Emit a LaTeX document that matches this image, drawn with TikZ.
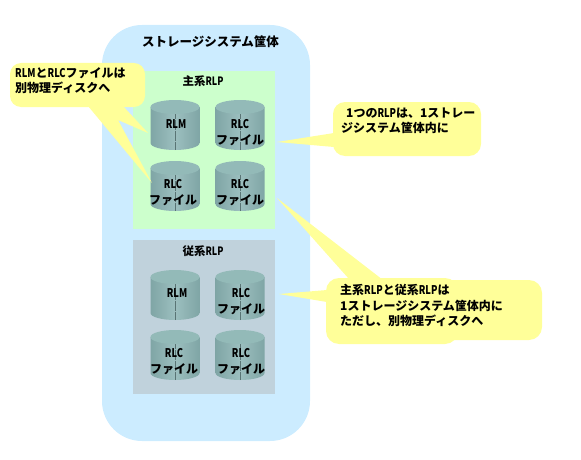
\documentclass[tikz,border=0pt]{standalone}
\usepackage{fontspec}
\setmainfont{Noto Sans CJK JP}
\newcommand{\lat}[1]{\scalebox{0.78}[1]{#1}}
\definecolor{casing}{HTML}{CCECFF}
\definecolor{primary}{HTML}{CCFFCC}
\definecolor{secondary}{HTML}{C0D2DC}
\definecolor{balloon}{HTML}{FFFF99}
\definecolor{diskside}{HTML}{7FA5A5}
\definecolor{diskmid}{HTML}{9CBFBF}
\definecolor{disktop}{HTML}{93BAB8}
\tikzset{
	zonetext/.style={font=\fontsize{11.5}{14}\selectfont\bfseries,inner sep=0pt},
	disktext/.style={font=\fontsize{12}{14}\selectfont\bfseries,inner sep=0pt},
	balloontext/.style={font=\fontsize{12}{14}\selectfont\bfseries,inner sep=0pt,anchor=west},
}
% one disk: centre x, top y
\newcommand{\disk}[2]{
	\shade[left color=diskside,right color=diskside,middle color=diskmid] (#1-24.5,#2+7) -- (#1-24.5,#2+43) arc[start angle=180,end angle=0,x radius=24.5,y radius=7] -- (#1+24.5,#2+7) -- cycle;
	\fill[disktop] (#1,#2+7) ellipse[x radius=24.5,y radius=7];
	\draw[diskside!70!black,densely dotted,ultra thin] (#1,#2+14) -- (#1,#2+50);
}
\begin{document}
\begin{tikzpicture}[x=1pt,y=-1pt]
	\useasboundingbox (0,0) rectangle (581,460);
	\fill[casing,rounded corners=40pt] (102,25) rectangle (310,441);
	\fill[primary] (133,71) rectangle (275,229);
	\fill[secondary] (133,240) rectangle (275,394);

	\foreach \x in {175,240} \foreach \y in {100,161,270,330} \disk{\x}{\y};

	% balloons
	\fill[balloon,rounded corners=11pt] (10,63) rectangle (145,107);
	\fill[balloon] (88,106) -- (152,183) -- (118,120) -- (148,133) -- (123,106) -- cycle;
	\fill[balloon,rounded corners=12pt] (333,102) rectangle (481,156);
	\fill[balloon] (334,133) -- (277,142) -- (334,147) -- cycle;
	\fill[balloon,rounded corners=13pt] (326,278) rectangle (458,344);
	\fill[balloon,rounded corners=13pt] (340,280) rectangle (542,340);
	\fill[balloon] (349,279) -- (277,198) -- (383,280) -- cycle;
	\fill[balloon] (327,290) -- (279,294) -- (327,302) -- cycle;

	\node[zonetext,font=\fontsize{12.5}{14}\selectfont\bfseries] (casingname) at (210.5,42) {ストレージシステム筐体};
	\node[zonetext] (primaryname) at (203,81) {主系\lat{RLP}};
	\node[zonetext] (secondaryname) at (203,251) {従系\lat{RLP}};

	\node[disktext] (rlm1) at (176,124) {\lat{RLM}};
	\node[disktext] (rlm2) at (177,293) {\lat{RLM}};
	\foreach \n/\x/\y in {a/240/124,b/173/184,c/240/184,d/241/293,e/174/353,f/241/353} {
		\node[disktext] (rlc\n) at (\x,\y) {\lat{RLC}};
		\node[disktext] (file\n) at (\x,\y+16) {ファイル};
	}

	\node[balloontext] (lefta) at (15,73) {\lat{RLM}と\lat{RLC}ファイルは};
	\node[balloontext] (leftb) at (15,88) {別物理ディスクへ};
	\node[balloontext] (topa) at (346,113) {1つの\lat{RLP}は、1ストレー};
	\node[balloontext] (topb) at (341,128) {ジシステム筐体内に};
	\node[balloontext] (lowa) at (340,290) {主系\lat{RLP}と従系\lat{RLP}は};
	\node[balloontext] (lowb) at (340,306) {1ストレージシステム筐体内に};
	\node[balloontext] (lowc) at (340,321) {ただし、別物理ディスクへ};
\end{tikzpicture}
\end{document}
